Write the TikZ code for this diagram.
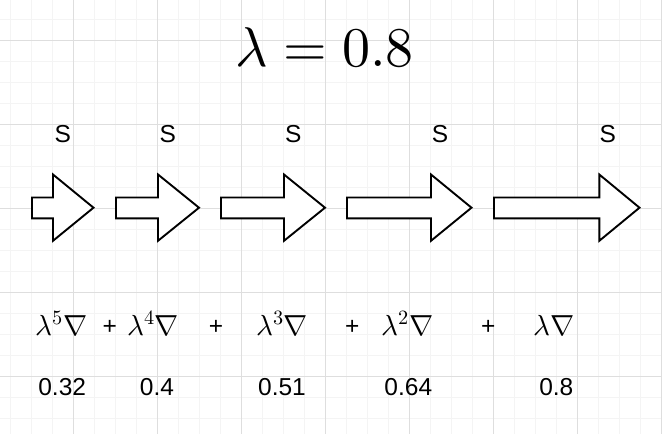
\documentclass[tikz,border=0pt]{standalone}
\usepackage{fontspec}
\usepackage{unicode-math}
\setmathfont{Latin Modern Math}
\newfontfamily\labelfont{Liberation Sans}
\definecolor{gridminor}{HTML}{F4F4F4}
\definecolor{gridmajor}{HTML}{DEDEDE}

\begin{document}
\begin{tikzpicture}[
		x=1pt,y=-1pt,
		minor grid/.style={draw=gridminor,line width=0.8pt},
		major grid/.style={draw=gridmajor,line width=0.8pt},
		block/.style={draw=black,line width=1.9pt,fill=white,line join=miter},
		tag/.style={font=\labelfont\fontsize{24.5}{24.5}\selectfont,inner sep=0pt,anchor=base},
		term/.style={font=\fontsize{29}{29}\selectfont,inner sep=0pt,anchor=base},
]

\useasboundingbox (0,0) rectangle (662,434);
\fill[white] (0,0) rectangle (662,434);

\def\shaftT{197.5}
\def\shaftB{218.3}
\def\headT{174.5}
\def\headB{240.8}
\def\midY{207.7}

\newcommand*{\blockarrow}[4]{%
	% #1 = name, #2 = tail x, #3 = head base x, #4 = tip x
	\draw [block] (#2,\shaftT) -- (#3,\shaftT) -- (#3,\headT) -- (#4,\midY)
		coordinate (#1) -- (#3,\headB) -- (#3,\shaftB) -- (#2,\shaftB) -- cycle;
}

% background grid
\foreach \k in {0,...,31}
	\draw [minor grid] (10.4+21*\k,0) -- ++(0,434);
\foreach \k in {0,...,19}
	\draw [minor grid] (0,19.3+21*\k) -- ++(662,0);
\foreach \k in {0,...,7}
	\draw [major grid] (73.4+84*\k,0) -- ++(0,434);
\foreach \k in {0,...,4}
	\draw [major grid] (0,40.3+84*\k) -- ++(662,0);

\node [font=\fontsize{56}{56}\selectfont,inner sep=0pt,anchor=base] (title) at (324.5,66.7) {$\lambda=0.8$};

\blockarrow{a1}{32}{53}{93.5}
\blockarrow{a2}{116}{158}{199}
\blockarrow{a3}{221}{284}{325}
\blockarrow{a4}{347}{431}{471.5}
\blockarrow{a5}{494}{599.3}{639.5}

\foreach \x [count=\i] in {62.7,167.7,293.3,440,607.7}
	\node [tag] (s\i) at (\x,142.5) {S};

\node [term] (g1) at (61.7,335.5) {$\lambda^5\nabla$};
\node [term] (g2) at (153,335.5) {$\lambda^4\nabla$};
\node [term] (g3) at (282,335.5) {$\lambda^3\nabla$};
\node [term] (g4) at (407.5,335.5) {$\lambda^2\nabla$};
\node [term] (g5) at (553.7,335.5) {$\lambda\nabla$};

\foreach \x [count=\i] in {109.8,216,352.3,488.3}
	\node [tag] (p\i) at (\x,334) {+};

\foreach \x/\v [count=\i] in {62.2/0.32,157/0.4,282/0.51,408.3/0.64,556.3/0.8}
	\node [tag] (v\i) at (\x,395.3) {\v};

\end{tikzpicture}
\end{document}
